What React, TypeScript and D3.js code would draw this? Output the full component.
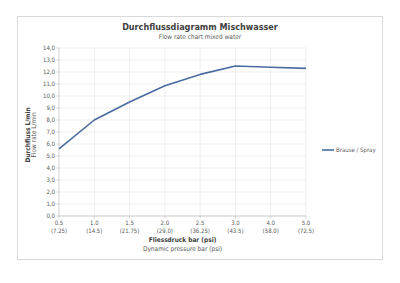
import React from "react";
import * as d3 from "d3";

const categories = ["0.5", "1.0", "1.5", "2.0", "2.5", "3.0", "4.0", "5.0"];
const psiLabels = ["(7.25)", "(14.5)", "(21.75)", "(29.0)", "(36.25)", "(43.5)", "(58.0)", "(72.5)"];
const flowValues = [5.6, 8.0, 9.5, 10.85, 11.8, 12.5, 12.4, 12.3];
const yTicks = d3.range(0, 15, 1);
const seriesName = "Brause / Spray";

const W = 400, H = 283;
const plot = { left: 59, right: 306, top: 48, bottom: 216 };
const FONT = "'DejaVu Sans Condensed', 'DejaVu Sans', sans-serif";
const TXT = "#595959";
const LINE = "#4a6ba0";

export default function App() {
  const x = d3.scalePoint<string>().domain(categories).range([plot.left, plot.right]).padding(0);
  const y = d3.scaleLinear().domain([0, 14]).range([plot.bottom, plot.top]);
  const line = d3.line<number>().x((_, i) => x(categories[i])!).y((d) => y(d));
  const cx = (plot.left + plot.right) / 2;
  const cy = (plot.top + plot.bottom) / 2;
  return (
    <svg width={W} height={H} style={{ position: "absolute", left: 0, top: 0, background: "#fff" }} fontFamily={FONT}>
      <rect x={0} y={0} width={W} height={H} fill="#fff" />
      <rect x={17.5} y={16.5} width={365} height={243} fill="#fff" stroke="#d9d9d9" strokeWidth={1} />
      <text x={200} y={30} textAnchor="middle" fontSize={9} fontWeight="bold" fill="#404040">Durchflussdiagramm Mischwasser</text>
      <text x={200} y={39} textAnchor="middle" fontSize={6.5} fill={TXT}>Flow rate chart mixed water</text>
      {yTicks.map((t) => (
        <g key={t}>
          <line x1={plot.left} x2={plot.right} y1={y(t)} y2={y(t)} stroke="#e6e6e6" strokeWidth={0.7} />
          <line x1={plot.left - 2.5} x2={plot.left} y1={y(t)} y2={y(t)} stroke="#bfbfbf" strokeWidth={0.7} />
          <text x={plot.left - 4} y={y(t)} dy="0.35em" textAnchor="end" fontSize={6} fill={TXT}>{t.toFixed(1).replace(".", ",")}</text>
        </g>
      ))}
      {categories.map((c, i) => (
        <g key={c}>
          {i > 0 && <line x1={x(c)} x2={x(c)} y1={plot.top} y2={plot.bottom} stroke="#e6e6e6" strokeWidth={0.7} />}
          <line x1={x(c)} x2={x(c)} y1={plot.bottom} y2={plot.bottom + 2.5} stroke="#bfbfbf" strokeWidth={0.7} />
          <text x={x(c)} y={225} textAnchor="middle" fontSize={6} fill={TXT}>{c}</text>
          <text x={x(c)} y={233} textAnchor="middle" fontSize={6} fill={TXT}>{psiLabels[i]}</text>
        </g>
      ))}
      <line x1={plot.left} x2={plot.left} y1={plot.top} y2={plot.bottom} stroke="#bfbfbf" strokeWidth={0.7} />
      <line x1={plot.left} x2={plot.right} y1={plot.bottom} y2={plot.bottom} stroke="#bfbfbf" strokeWidth={0.7} />
      <path d={line(flowValues) || ""} fill="none" stroke={LINE} strokeWidth={1.6} strokeLinejoin="round" />
      <text x={cx} y={242} textAnchor="middle" fontSize={6.5} fontWeight="bold" fill="#404040">Fliessdruck bar (psi)</text>
      <text x={cx} y={251} textAnchor="middle" fontSize={6.5} fill={TXT}>Dynamic pressure bar (psi)</text>
      <g transform={`translate(29.5,${cy + 3}) rotate(-90)`}>
        <text textAnchor="middle" fontSize={6.5} fontWeight="bold" fill="#404040">Durchfluss L/min</text>
      </g>
      <g transform={`translate(36,${cy + 3}) rotate(-90)`}>
        <text textAnchor="middle" fontSize={6.5} fill={TXT}>Flow rate L/min</text>
      </g>
      <line x1={322} x2={334} y1={150} y2={150} stroke={LINE} strokeWidth={1.6} />
      <text x={336} y={150} dy="0.35em" fontSize={6} fill={TXT}>{seriesName}</text>
    </svg>
  );
}
